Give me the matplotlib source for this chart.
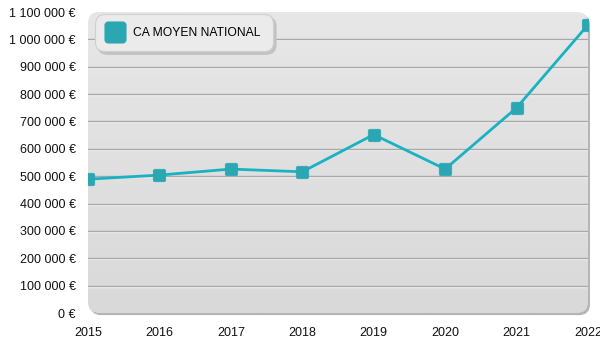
import numpy as np
import matplotlib.pyplot as plt
from matplotlib.patches import FancyBboxPatch
from matplotlib.colors import LinearSegmentedColormap
from matplotlib.path import Path
import matplotlib.transforms as mtransforms

plt.rcParams['font.family'] = ['Liberation Sans', 'DejaVu Sans']

years = [2015, 2016, 2017, 2018, 2019, 2020, 2021, 2022]
ca_moyen = [489000, 504000, 526000, 516000, 652000, 526000, 750000, 1053000]
series_label = "CA MOYEN NATIONAL"
y_ticks = list(range(0, 1100001, 100000))


def euro(v):
    return "{:,}".format(int(v)).replace(",", " ") + " €"


def rounded_square(r=0.3, n=8):
    # square marker with rounded corners
    pts = []
    c = 1 - r
    for cx, cy, a0 in [(c, c, 0), (-c, c, 90), (-c, -c, 180), (c, -c, 270)]:
        for a in np.linspace(a0, a0 + 90, n):
            pts.append((cx + r * np.cos(np.radians(a)), cy + r * np.sin(np.radians(a))))
    pts.append(pts[0])
    return Path(pts, closed=True)


fig = plt.figure(figsize=(6, 3.5), dpi=100)
ax = fig.add_axes([88 / 600, 37 / 350, 500 / 600, 301 / 350])
ax.set_xlim(years[0], years[-1])
ax.set_ylim(0, 1100000)
for s in ax.spines.values():
    s.set_visible(False)

# rounded panel with soft shadow
shadow = FancyBboxPatch((0.004, -0.007), 1.0, 1.0, boxstyle="round,pad=0,rounding_size=0.022",
                        mutation_aspect=1.66, transform=ax.transAxes, facecolor="#b5b5b5",
                        edgecolor="none", zorder=0, clip_on=False)
ax.add_patch(shadow)
panel = FancyBboxPatch((0, 0), 1.0, 1.0, boxstyle="round,pad=0,rounding_size=0.022",
                       mutation_aspect=1.66, transform=ax.transAxes, facecolor="none",
                       edgecolor="none", zorder=0.1, clip_on=False)
ax.add_patch(panel)
grad = np.linspace(0, 1, 256).reshape(-1, 1)
bg_cmap = LinearSegmentedColormap.from_list("bg", ["#e7e7e7", "#d9d9d9"])
img = ax.imshow(grad, cmap=bg_cmap, extent=[years[0], years[-1], 0, 1100000],
                origin="upper", aspect="auto", zorder=0.2, interpolation="bilinear")
img.set_clip_path(panel)
ax.set_xlim(years[0], years[-1])
ax.set_ylim(0, 1100000)

# grid lines: grey line with white highlight below
shift = mtransforms.ScaledTranslation(0, -1 / 100, fig.dpi_scale_trans)
for t in y_ticks[1:-1]:
    hl = ax.axhline(t, color="#f4f4f4", lw=1, zorder=0.5)
    hl.set_transform(hl.get_transform() + shift)
    ax.axhline(t, color="#a9a9a9", lw=1, zorder=0.6)

marker = rounded_square()
ax.plot(years, ca_moyen, color="#1ab2c2", lw=2, zorder=2)
ax.plot(years, ca_moyen, linestyle="none", marker=marker, markersize=9,
        markerfacecolor="#2aa7b3", markeredgecolor="#2aa7b3", markeredgewidth=0.5,
        zorder=3, label=series_label)

ax.set_xticks(years)
ax.set_xticklabels([str(y) for y in years])
ax.set_yticks(y_ticks)
ax.set_yticklabels([euro(v) for v in y_ticks])
ax.tick_params(length=0, labelsize=9, colors="#111111")
ax.tick_params(axis="y", pad=9)
ax.tick_params(axis="x", pad=10)

leg = ax.legend(loc="upper left", bbox_to_anchor=(0.014, 0.993), fontsize=8.7,
                frameon=True, fancybox=True, facecolor="#ebebeb",
                shadow={"color": "#c2c2c2", "alpha": 1},
                edgecolor="#d0d0d0", markerscale=1.7, handletextpad=0.9,
                borderpad=1.05, handlelength=1.2, borderaxespad=0)
leg.get_frame().set_linewidth(0.8)
leg.get_frame().set_boxstyle("round", pad=0, rounding_size=0.8)
leg.set_zorder(5)

fig.savefig("out.png", dpi=100)
